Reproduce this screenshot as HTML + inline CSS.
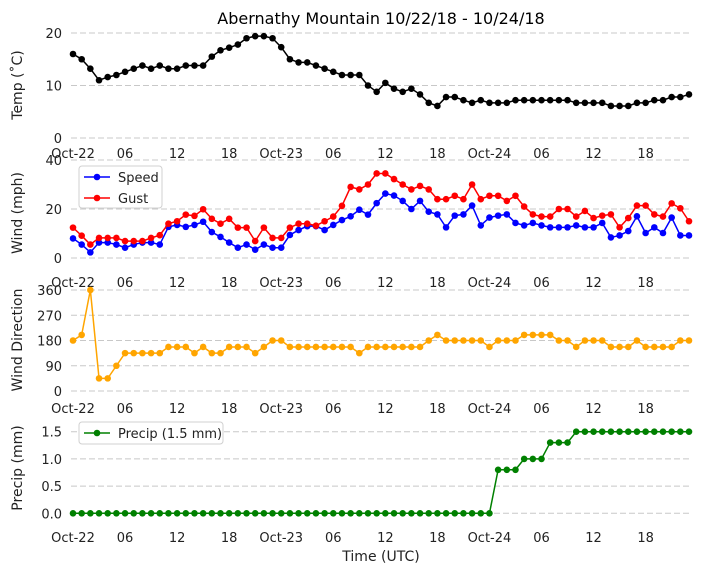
<!DOCTYPE html>
<html><head><meta charset="utf-8"><style>
body{margin:0;background:#fff;}
svg text{font-family:"DejaVu Sans","Liberation Sans",sans-serif;}
</style></head><body>
<svg id="c" width="704" height="573" viewBox="0 0 704 573" xmlns="http://www.w3.org/2000/svg"></svg>
<script>
const hours = Array.from({length:72},(_,i)=>i);
const xTickHours = [0,6,12,18,24,30,36,42,48,54,60,66];
const xTickLabels = ["Oct-22","06","12","18","Oct-23","06","12","18","Oct-24","06","12","18"];
const temp = [16,15,13.2,11,11.6,12,12.6,13.2,13.8,13.2,13.8,13.2,13.2,13.8,13.8,13.8,15.5,16.7,17.2,17.8,19,19.4,19.4,19,17.3,15,14.4,14.4,13.8,13.2,12.6,12,12,12,10,8.8,10.5,9.4,8.8,9.4,8.3,6.7,6.1,7.8,7.8,7.2,6.7,7.2,6.7,6.7,6.7,7.2,7.2,7.2,7.2,7.2,7.2,7.2,6.7,6.7,6.7,6.7,6.1,6.1,6.1,6.7,6.7,7.2,7.2,7.8,7.8,8.3];
const speed = [8,5.5,2.3,6.3,6.3,5.5,4.2,5.5,6.3,6.3,5.5,12.7,13.5,12.7,13.5,14.8,10.6,8.6,6.3,4.2,5.5,3.4,5.5,4.2,4.2,9.4,11.4,13,13,11.4,13.5,15.5,17,19.7,17.7,22.4,26.3,25.5,23.3,20,23.3,18.9,17.8,12.5,17.3,17.8,21.4,13.3,16.5,17.3,17.8,14.3,13.3,14.3,13.3,12.5,12.5,12.5,13.3,12.5,12.5,14.3,8.4,9.2,11,17,10.2,12.5,10.2,16.5,9.2,9.2];
const gust = [12.4,9.1,5.5,8.2,8.2,8.2,6.9,6.9,6.9,8.2,9.3,14,15,17.7,17.2,19.9,16,14,16,12.4,12.4,6.9,12.4,8.2,8.2,12.4,14,14,13.2,15,16.9,21.3,29,28,30,34.5,34.5,32.2,30,28,29.4,28,24,24,25.4,24,30,24,25.4,25.4,23.3,25.4,21,17.8,16.9,16.9,20,20,16.9,19.2,16.3,17.3,17.8,12.5,16.3,21.4,21.4,17.8,16.9,22.3,20.3,15];
const windDir = [180,200,360,45,45,90,135,135,135,135,135,157,157,157,135,157,135,135,157,157,157,135,157,180,180,157,157,157,157,157,157,157,157,135,157,157,157,157,157,157,157,180,200,180,180,180,180,180,157,180,180,180,200,200,200,200,180,180,157,180,180,180,157,157,157,180,157,157,157,157,180,180];
const precip = [0,0,0,0,0,0,0,0,0,0,0,0,0,0,0,0,0,0,0,0,0,0,0,0,0,0,0,0,0,0,0,0,0,0,0,0,0,0,0,0,0,0,0,0,0,0,0,0,0,0.8,0.8,0.8,1.0,1.0,1.0,1.3,1.3,1.3,1.5,1.5,1.5,1.5,1.5,1.5,1.5,1.5,1.5,1.5,1.5,1.5,1.5,1.5];
const tempTicks=[0,10,20], windTicks=[0,20,40], dirTicks=[0,90,180,270,360], precipTicks=[0,0.5,1.0,1.5];

const svg=document.getElementById('c');
const NS='http://www.w3.org/2000/svg';
function mk(tag,attrs,parent){const e=document.createElementNS(NS,tag);for(const k in attrs)e.setAttribute(k,attrs[k]);(parent||svg).appendChild(e);return e;}
const X=h=>73+h*(616/71);
const AX0=71, AX1=691;

function panel(name,y0px,ymin,ymax,y1px,ticks,fmt,xlabY){
  const g=mk('g',{});
  
  
  const Y=v=>y0px+(v-ymin)/(ymax-ymin)*(y1px-y0px);
  ticks.forEach(t=>{
    const l=mk('line',{x1:AX0,x2:AX1,y1:Y(t),y2:Y(t),stroke:'#c8c8c8','stroke-dasharray':'6,3','stroke-width':1},g);
    
    
    const tx=mk('text',{x:62,y:Y(t)+5,'text-anchor':'end','font-size':13,fill:'#222'},g);
    tx.textContent=fmt(t);
    
    
  });
  xTickHours.forEach((h,i)=>{
    const tx=mk('text',{x:X(h),y:xlabY,'text-anchor':'middle','font-size':13,fill:'#222'},g);
    tx.textContent=xTickLabels[i];
    
    
  });
  return {g,Y};
}
function series(p,name,vals,color){
  const pts=vals.map((v,i)=>X(hours[i])+','+p.Y(v)).join(' ');
  const pl=mk('polyline',{points:pts,fill:'none',stroke:color,'stroke-width':1.5},p.g);
  
  
  vals.forEach((v,i)=>{
    const c=mk('circle',{cx:X(hours[i]),cy:p.Y(v),r:3.3,fill:color},p.g);
    
    
  });
}
function legend(p,x,y,w,h,entries){
  const r=mk('rect',{x:x,y:y,width:w,height:h,rx:3,fill:'#fff',stroke:'#d0d0d0'},p.g);
  
  
  entries.forEach((e,i)=>{
    const yy=y+11+i*21;
    const l=mk('line',{x1:x+5,x2:x+31,y1:yy,y2:yy,stroke:e[1],'stroke-width':1.5},p.g);
    
    
    const c=mk('circle',{cx:x+18,cy:yy,r:3.3,fill:e[1]},p.g);
    
    
    const t=mk('text',{x:x+39,y:yy+5,'font-size':13,fill:'#222'},p.g);
    t.textContent=e[0];
    
    
  });
}
function ylab(text,cx,cy){
  const t=mk('text',{x:cx,y:cy,'text-anchor':'middle','font-size':14,fill:'#222',transform:`rotate(-90 ${cx} ${cy})`});
  t.textContent=text;
  
  
}

const title=mk('text',{x:381,y:24,'text-anchor':'middle','font-size':16,fill:'#000'});
title.textContent='Abernathy Mountain 10/22/18 - 10/24/18';



const p1=panel('temp',138,0,20,33,tempTicks,t=>String(t),158);
series(p1,'temp',temp,'#000');
ylab('Temp (˚C)',22,85);

const p2=panel('wind',258,0,40,160,windTicks,t=>String(t),287);
series(p2,'speed',speed,'#0000ff');
series(p2,'gust',gust,'#ff0000');
legend(p2,79,166,83,42,[['Speed','#0000ff'],['Gust','#ff0000']]);
ylab('Wind (mph)',22,213);

const p3=panel('wind-dir',391,0,360,290,dirTicks,t=>String(t),413);
series(p3,'wind-direction',windDir,'#ffa500');
ylab('Wind Direction',22,340);

const p4=panel('precip',513.3,0,1.5,431.7,precipTicks,t=>t.toFixed(1),542);
series(p4,'precip',precip,'#008000');
legend(p4,79,422,144,22,[['Precip (1.5 mm)','#008000']]);
ylab('Precip (mm)',22,468);

const xl=mk('text',{x:381,y:561,'text-anchor':'middle','font-size':14,fill:'#222'});
xl.textContent='Time (UTC)';


</script>
</body></html>
